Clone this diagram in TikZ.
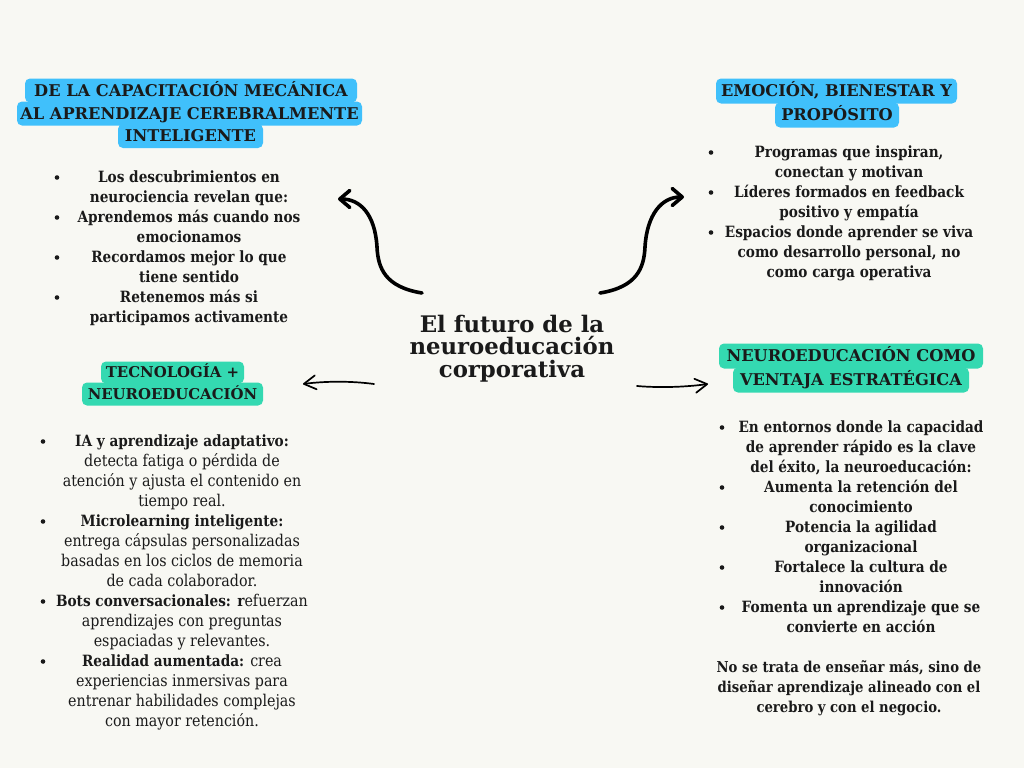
\documentclass[tikz,border=0pt]{standalone}
\usepackage{fontspec}
\setmainfont{DejaVu Serif}[FakeStretch=0.88]
\newfontfamily\hdrfont{DejaVu Serif}
\usetikzlibrary{arrows.meta}
\definecolor{bgc}{HTML}{F8F8F3}
\definecolor{hblue}{HTML}{40C0FB}
\definecolor{hgreen}{HTML}{34D9B1}
\definecolor{ink}{HTML}{1A1A1A}
\newcommand{\lbl}[1]{{\bfseries\fontsize{15.5}{20}\selectfont #1}}
\tikzset{
  hdr/.style={rounded corners=5pt, inner sep=0pt, text height=11.8pt, text depth=0pt,
    font=\hdrfont\bfseries\fontsize{16.2}{20}\selectfont, text=ink},
  hdrblue/.style={hdr, fill=hblue},
  hdrgreen/.style={hdr, fill=hgreen},
  body/.style={inner sep=0pt, anchor=base, text=ink, font=\fontsize{16.2}{20}\selectfont},
  bodybold/.style={body, font=\bfseries\fontsize{15.5}{20}\selectfont},
  dot/.style={circle, fill=ink, inner sep=0pt, minimum size=4.6pt},
  titlestyle/.style={inner sep=0pt, anchor=base, text=ink, font=\hdrfont\bfseries\fontsize{22.8}{22.5}\selectfont},
  thickarrow/.style={draw=black, line width=3.6pt, line cap=round,
    -{Straight Barb[length=10pt,width=17pt,line cap=round,line join=round]}},
  thinarrow/.style={draw=black, line width=1.7pt, line cap=round,
    -{Straight Barb[length=12pt,width=14pt,line cap=round,line join=round]}}
}
\begin{document}
\begin{tikzpicture}[x=1pt,y=-1pt]
\fill[bgc] (0,0) rectangle (1024,768);
\useasboundingbox (0,0) rectangle (1024,768);

% ---------- headers ----------
\node[hdrblue, minimum width=345pt, minimum height=24pt] (h1b) at (189.5,113.5) {AL APRENDIZAJE CEREBRALMENTE};
\node[hdrblue, minimum width=332pt, minimum height=24pt] (h1a) at (191,90.5) {DE LA CAPACITACIÓN MECÁNICA};
\node[hdrblue, minimum width=145pt, minimum height=24pt] (h1c) at (190.5,136) {INTELIGENTE};

\node[hdrblue, minimum width=241pt, minimum height=25pt] (h2a) at (836.5,91) {EMOCIÓN, BIENESTAR Y};
\node[hdrblue, minimum width=124pt, minimum height=25pt] (h2b) at (837,115) {PROPÓSITO};

\node[hdrgreen, minimum width=181pt, minimum height=23pt, font=\hdrfont\bfseries\fontsize{14.9}{20}\selectfont, text height=10.9pt] (h3b) at (172.5,394) {NEUROEDUCACIÓN};
\node[hdrgreen, minimum width=143pt, minimum height=22pt, font=\hdrfont\bfseries\fontsize{14.9}{20}\selectfont, text height=10.9pt] (h3a) at (172.5,372.5) {TECNOLOGÍA +};

\node[hdrgreen, minimum width=264pt, minimum height=25pt] (h4a) at (851,356) {NEUROEDUCACIÓN COMO};
\node[hdrgreen, minimum width=236pt, minimum height=25pt] (h4b) at (851,380) {VENTAJA ESTRATÉGICA};

% ---------- title ----------
\node[titlestyle] (title) at (512,332) {\parbox[t]{280pt}{\centering El futuro de la\\ neuroeducación\\ corporativa}};

% ---------- top-left list ----------
\node[bodybold] (tl) at (189,182) {\parbox[t]{320pt}{\centering
Los descubrimientos en\\ neurociencia revelan que:\\
Aprendemos más cuando nos\\ emocionamos\\
Recordamos mejor lo que\\ tiene sentido\\
Retenemos más si\\ participamos activamente}};
\foreach \k in {0,2,4,6} \node[dot] (tlb\k) at (57,177.5+20*\k) {};

% ---------- top-right list ----------
\node[bodybold] (tr) at (849,157) {\parbox[t]{320pt}{\centering
Programas que inspiran,\\ conectan y motivan\\
Líderes formados en feedback\\ positivo y empatía\\
Espacios donde aprender se viva\\ como desarrollo personal, no\\ como carga operativa}};
\foreach \k in {0,2,4} \node[dot] (trb\k) at (711,152.5+20*\k) {};

% ---------- bottom-left list ----------
\node[body] (bl) at (182,446) {\parbox[t]{320pt}{\centering
\lbl{IA y aprendizaje adaptativo:}\\ detecta fatiga o pérdida de\\ atención y ajusta el contenido en\\ tiempo real.\\
\lbl{Microlearning inteligente:}\\ entrega cápsulas personalizadas\\ basadas en los ciclos de memoria\\ de cada colaborador.\\
\lbl{Bots conversacionales: r}efuerzan\\ aprendizajes con preguntas\\ espaciadas y relevantes.\\
\lbl{Realidad aumentada:} crea\\ experiencias inmersivas para\\ entrenar habilidades complejas\\ con mayor retención.}};
\foreach \k in {0,4,8,11} \node[dot] (blb\k) at (43,441.5+20*\k) {};

% ---------- bottom-right list ----------
\node[bodybold] (br) at (861,432) {\parbox[t]{320pt}{\centering
En entornos donde la capacidad\\ de aprender rápido es la clave\\ del éxito, la neuroeducación:\\
Aumenta la retención del\\ conocimiento\\
Potencia la agilidad\\ organizacional\\
Fortalece la cultura de\\ innovación\\
Fomenta un aprendizaje que se\\ convierte en acción}};
\foreach \k in {0,3,5,7,9} \node[dot] (brb\k) at (722,427.5+20*\k) {};
\node[bodybold, font=\bfseries\fontsize{15}{20}\selectfont] (brp) at (849,672) {\parbox[t]{320pt}{\centering
No se trata de enseñar más, sino de\\ diseñar aprendizaje alineado con el\\ cerebro y con el negocio.}};

% ---------- connectors ----------
\coordinate (tlS) at (422,293); \coordinate (tlE) at (338,199);
\coordinate (trS) at (600,293); \coordinate (trE) at (684,197);
\coordinate (lS) at (374,384);  \coordinate (lE) at (303,384);
\coordinate (rS) at (637,386);  \coordinate (rE) at (708,384);
\draw[thickarrow] (tlS) .. controls (385,287) and (378,268) .. (377,247)
   .. controls (375,214) and (360,199) .. (tlE);
\draw[thickarrow] (trS) .. controls (637,287) and (644,268) .. (645,247)
   .. controls (647,214) and (662,197) .. (trE);
\draw[thinarrow] (lS) .. controls (352,381) and (326,381) .. (lE);
\draw[thinarrow] (rS) .. controls (660,388) and (686,387) .. (rE);
\end{tikzpicture}
\end{document}
